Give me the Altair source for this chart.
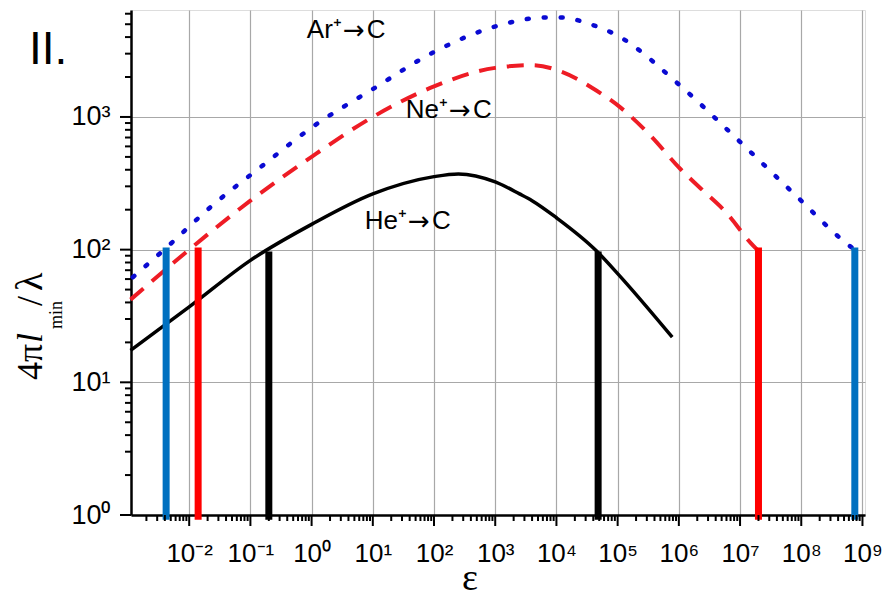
import altair as alt
import pandas as pd

# ---------------- data ----------------
he_eps = [1.1e-3, 1e-2, 0.1, 1, 10, 100, 250, 1e3, 2.5e3, 4e3, 1e4, 4.4e4, 1e5, 7.8e5]
he_val = [17.4, 37, 83, 155, 263, 355, 372, 324, 263, 234, 174, 99, 66, 21.9]

ne_eps = [1.1e-3, 1e-2, 0.1, 1, 10, 100, 1e3, 4e3, 1.23e4, 3.8e4, 1.12e5, 3.6e5,
          1e6, 2.3e6, 5.9e6, 1.5e7, 1.9e7]
ne_val = [42, 100, 234, 501, 1000, 1700, 2344, 2455, 2188, 1660, 1175, 708,
          417, 288, 191, 112, 100]

ar_eps = [1.2e-3, 3.9e-3, 2.5e-2, 0.155, 1, 10, 100, 1.15e3, 6.6e3, 1.3e4, 3e4,
          9.3e4, 1.15e6, 7.4e6, 8.5e7, 5.4e8, 7.4e8]
ar_val = [62, 100, 219, 427, 832, 1622, 3090, 4898, 5623, 5623, 5129,
          4169, 1660, 741, 251, 112, 100]

bar_eps = [4.2e-3, 1.4e-2, 0.2, 4.8e4, 2e7, 7.5e8]
bar_top = [104, 104, 97, 97, 104, 104]
bar_bottom = [0.92, 0.92, 0.92, 0.92, 0.92, 0.92]
bar_color = ["#0070C0", "#FF0000", "#000000", "#000000", "#FF0000", "#0070C0"]

label_ion = ["Ar\u207a", "Ne\u207a", "He\u207a"]
label_target = ["C", "C", "C"]
label_eps = [4.9, 265, 56.6]
label_val = [4520, 1127, 164]

x_exponents = list(range(-3, 10))
y_exponents = list(range(0, 4))

# ---------------- helpers ----------------
SUP = {"-": "\u207b", "0": "\u2070", "1": "\u00b9", "2": "\u00b2", "3": "\u00b3",
       "4": "\u2074", "5": "\u2075", "6": "\u2076", "7": "\u2077", "8": "\u2078", "9": "\u2079"}


def sup_label(e):
    return "10" + "".join(SUP[c] for c in str(e))


x_dom = [1.12e-3, 1.1e9]
y_dom = [1, 6400]

x_major = [10.0 ** e for e in x_exponents if x_dom[0] <= 10.0 ** e <= x_dom[1]]
x_minor = [m * 10.0 ** k for k in range(-3, 9) for m in range(2, 10)]
x_minor = [t for t in x_minor if x_dom[0] <= t <= x_dom[1]]
y_major = [10.0 ** e for e in y_exponents]
y_minor = [m * 10.0 ** k for k in range(0, 4) for m in range(2, 10)]
y_minor = [t for t in y_minor if t <= y_dom[1]]


def label_expr(exps):
    arr = "[" + ",".join("'" + sup_label(e) + "'" for e in exps) + "]"
    return f"{arr}[round(log(datum.value)/LN10) - ({exps[0]})]"


def make_axis(values, exps, orient, font_size):
    return alt.Axis(
        values=values,
        labelExpr=label_expr(exps),
        ticks=False,
        tickSize=0,
        grid=True,
        gridColor="#A8A8A8",
        gridWidth=1.2,
        domainColor="black",
        domainWidth=2.5,
        labelFont="Liberation Sans",
        labelFontSize=font_size,
        labelColor="black",
        labelPadding=25 if orient == "bottom" else 21,
        labelOverlap=False,
        labelFlush=False,
        labelBound=False,
        title=None,
        orient=orient,
    )


x_scale = alt.Scale(type="log", domain=x_dom, nice=False)
y_scale = alt.Scale(type="log", domain=y_dom, nice=False)
x_axis = make_axis(x_major, x_exponents, "bottom", 26)
y_axis = make_axis(y_major, y_exponents, "left", 27)
x_enc = alt.X("eps:Q", scale=x_scale, axis=x_axis)
y_enc = alt.Y("val:Q", scale=y_scale, axis=y_axis)

he_df = pd.DataFrame({"eps": he_eps, "val": he_val})
ne_df = pd.DataFrame({"eps": ne_eps, "val": ne_val})
ar_df = pd.DataFrame({"eps": ar_eps, "val": ar_val})
bar_df = pd.DataFrame({"eps": bar_eps, "val": bar_bottom, "top": bar_top, "c": bar_color})
lab_df = pd.DataFrame({"eps": label_eps, "val": label_val, "ion": label_ion, "tgt": label_target})

he_line = alt.Chart(he_df).mark_line(color="black", strokeWidth=3.5, interpolate="monotone").encode(
    x=x_enc, y=y_enc)
ne_line = alt.Chart(ne_df).mark_line(color="#EE1C25", strokeWidth=4, strokeDash=[17, 11],
                                     interpolate="monotone").encode(x=x_enc, y=y_enc)
ar_line = alt.Chart(ar_df).mark_line(color="#0A0AD2", strokeWidth=4.5, strokeDash=[2, 15],
                                     strokeCap="round", interpolate="monotone").encode(x=x_enc, y=y_enc)

bars = alt.Chart(bar_df).mark_rule(strokeWidth=7, strokeCap="butt").encode(
    x=x_enc, y=y_enc, y2="top:Q", color=alt.Color("c:N", scale=None))

# reaction labels: "Ar⁺" + arrow + "C", anchored at the arrow's centre
lab_base = alt.Chart(lab_df)
lab_ion = lab_base.mark_text(font="Liberation Sans", fontSize=26, color="black",
                             align="right", baseline="middle", dx=-12).encode(
    x=x_enc, y=y_enc, text="ion:N")
lab_arrow = lab_base.mark_text(font="DejaVu Sans", fontSize=26, color="black", text="\u2192",
                               align="center", baseline="middle", dy=1).encode(x=x_enc, y=y_enc)
lab_tgt = lab_base.mark_text(font="Liberation Sans", fontSize=26, color="black",
                             align="left", baseline="middle", dx=13).encode(
    x=x_enc, y=y_enc, text="tgt:N")

# axis tick marks (major longer than minor), placed through the shared scales
H = 505


def xticks(vals, length):
    return alt.Chart(pd.DataFrame({"eps": vals})).mark_rule(color="black", strokeWidth=2).encode(
        x=x_enc, y=alt.value(H), y2=alt.value(H + length))


def yticks(vals, length):
    return alt.Chart(pd.DataFrame({"val": vals})).mark_rule(color="black", strokeWidth=2).encode(
        y=y_enc, x=alt.value(0), x2=alt.value(-length))


tick_layers = [xticks(x_major, 11), xticks(x_minor, 6), yticks(y_major, 11), yticks(y_minor, 6)]

one = pd.DataFrame({"k": [0]})


def free_text(txt, px, py, size, font="Liberation Serif", style="normal", angle=0):
    return alt.Chart(one).mark_text(
        text=txt, font=font, fontSize=size, fontStyle=style, angle=angle,
        align="left", baseline="alphabetic", color="black",
    ).encode(x=alt.value(px), y=alt.value(py))


ytitle = [
    free_text("4\u03c0", -89, 370, 36, angle=270),
    free_text("l", -89, 333, 36, style="italic", angle=270),
    free_text("min", -69, 319, 18, angle=270),
    free_text("/", -89, 296, 36, angle=270),
    free_text("\u03bb", -89, 281, 38, angle=270),
]
xtitle = alt.Chart(one).mark_text(text="\u03b5", font="Liberation Serif", fontSize=38,
                                  align="center", baseline="alphabetic", color="black").encode(
    x=alt.value(339), y=alt.value(580))
panel = free_text("II.", -102, 54, 46, font="Liberation Sans")

chart = alt.layer(he_line, ne_line, ar_line, bars, lab_ion, lab_arrow, lab_tgt, *tick_layers,
                  *ytitle, xtitle, panel).properties(
    width=734, height=505,
    autosize=alt.AutoSizeParams(type="none"),
    padding={"left": 123, "top": 2, "right": 18, "bottom": 86},
).configure_view(stroke=None).configure(background="white")

chart.save("out.html", embed_options={"renderer": "svg", "actions": False})
